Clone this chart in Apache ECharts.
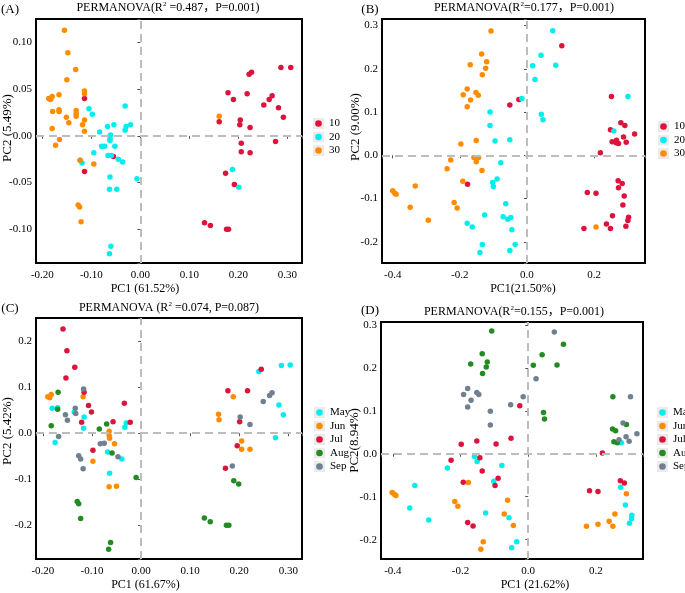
<!DOCTYPE html>
<html>
<head>
<meta charset="utf-8">
<script src="https://cdn.jsdelivr.net/npm/echarts@6/dist/echarts.min.js"></script>
<style>html,body{margin:0;padding:0;background:#fff}#c{width:685px;height:593px}</style>
</head>
<body>
<div id="c"></div>
<script>
// ---------- Data ----------
// Panel A (PC1 61.52%, PC2 5.49%) groups 10 / 20 / 30
const groupsAB = ['10', '20', '30'];
const A10 = [[-0.114,0.040],[-0.055,-0.022],[-0.114,-0.038],[0.179,0.046],[0.190,0.039],[0.218,0.045],[0.222,0.066],[0.227,0.068],[0.287,0.073],[0.307,0.073],[0.263,0.039],[0.269,0.043],[0.252,0.033],[0.282,0.030],[0.292,0.020],[0.161,0.015],[0.204,0.017],[0.203,0.012],[0.224,0.009],[0.206,-0.008],[0.206,-0.017],[0.224,-0.018],[0.276,-0.006],[0.174,-0.040],[0.192,-0.052],[0.131,-0.093],[0.143,-0.096],[0.176,-0.100],[0.180,-0.100]];
const A20 = [[-0.105,0.029],[-0.098,0.023],[-0.031,0.032],[-0.083,0.004],[-0.067,0.010],[-0.054,0.012],[-0.061,0.001],[-0.062,-0.003],[-0.062,-0.005],[-0.029,0.010],[-0.031,0.006],[-0.020,0.012],[-0.079,-0.011],[-0.073,-0.011],[-0.052,-0.011],[-0.095,-0.018],[-0.066,-0.021],[-0.059,-0.021],[-0.045,-0.025],[-0.036,-0.028],[-0.123,-0.026],[-0.119,-0.029],[-0.062,-0.044],[-0.007,-0.046],[-0.063,-0.057],[-0.048,-0.057],[-0.060,-0.118],[-0.063,-0.126],[0.188,-0.036],[0.201,-0.055]];
const A30 = [[-0.155,0.113],[-0.148,0.089],[-0.132,0.071],[-0.150,0.060],[-0.114,0.048],[-0.114,0.045],[-0.166,0.044],[-0.187,0.040],[-0.183,0.039],[-0.180,0.042],[-0.179,0.026],[-0.166,0.028],[-0.166,0.026],[-0.131,0.027],[-0.131,0.024],[-0.131,0.021],[-0.151,0.020],[-0.146,0.014],[-0.114,0.017],[-0.118,0.012],[-0.114,0.005],[-0.180,0.008],[-0.165,-0.004],[-0.173,-0.010],[-0.123,-0.026],[-0.095,-0.030],[-0.127,-0.074],[-0.124,-0.076],[-0.121,-0.092],[0.161,0.021]];

// Panel B (PC1 21.50%, PC2 9.00%)
const B10 = [[0.104,0.253],[-0.024,0.129],[-0.051,0.116],[-0.177,-0.067],[0.252,0.136],[0.249,0.059],[0.280,0.075],[0.292,0.069],[0.321,0.049],[0.288,0.042],[0.254,0.031],[0.266,0.029],[0.267,0.035],[0.273,0.027],[0.296,0.030],[0.219,0.006],[0.272,-0.059],[0.284,-0.065],[0.273,-0.075],[0.180,-0.086],[0.206,-0.088],[0.290,-0.094],[0.286,-0.115],[0.255,-0.140],[0.303,-0.143],[0.301,-0.151],[0.237,-0.159],[0.295,-0.164],[0.170,-0.169],[0.249,-0.169]];
const B20 = [[0.077,0.288],[0.042,0.231],[0.017,0.207],[0.086,0.208],[0.024,0.175],[-0.015,0.131],[0.043,0.095],[0.048,0.082],[-0.110,0.100],[-0.110,0.069],[-0.095,0.033],[-0.051,0.036],[-0.078,-0.017],[-0.102,-0.063],[-0.100,-0.072],[-0.089,-0.055],[-0.063,-0.112],[-0.126,-0.138],[-0.071,-0.142],[-0.057,-0.148],[-0.048,-0.144],[-0.045,-0.172],[-0.178,-0.157],[-0.163,-0.166],[-0.133,-0.206],[-0.140,-0.225],[-0.051,-0.220],[-0.035,-0.206],[0.301,0.136],[0.259,0.056]];
const B30 = [[-0.107,0.287],[-0.135,0.234],[-0.120,0.216],[-0.169,0.209],[-0.123,0.201],[-0.133,0.186],[-0.178,0.153],[-0.190,0.140],[-0.152,0.145],[-0.145,0.139],[-0.168,0.128],[-0.178,0.112],[-0.197,0.026],[-0.151,0.034],[-0.158,-0.005],[-0.144,-0.005],[-0.151,-0.015],[-0.227,-0.011],[-0.238,-0.031],[-0.134,-0.035],[-0.191,-0.060],[-0.333,-0.071],[-0.400,-0.082],[-0.394,-0.088],[-0.390,-0.090],[-0.217,-0.109],[-0.208,-0.122],[-0.348,-0.120],[-0.294,-0.150],[0.206,-0.166]];

// Panel C (PC1 61.67%, PC2 5.42%) months
const months = ['May', 'Jun', 'Jul', 'Aug', 'Sep'];
const CMay = [[-0.181,0.054],[-0.170,0.055],[-0.175,-0.020],[-0.116,0.035],[-0.117,0.011],[-0.136,0.046],[-0.030,0.022],[-0.033,0.013],[-0.068,-0.041],[-0.039,-0.056],[-0.064,-0.087],[0.240,0.134],[0.286,0.147],[0.304,0.148],[0.281,0.061],[0.290,0.040],[0.274,-0.010]];
const CJun = [[-0.190,0.079],[-0.186,0.077],[-0.183,0.084],[-0.118,0.079],[-0.065,0.004],[-0.065,-0.005],[-0.064,-0.011],[-0.054,-0.023],[-0.098,-0.061],[-0.065,-0.116],[-0.050,-0.115],[0.158,0.041],[0.159,0.029],[0.188,0.079],[0.205,-0.017],[0.205,-0.035],[0.222,-0.035]];
const CJul = [[-0.159,0.226],[-0.151,0.179],[-0.135,0.143],[-0.153,0.120],[-0.116,0.089],[-0.107,0.060],[-0.101,0.046],[-0.121,0.024],[-0.034,0.065],[-0.057,0.025],[-0.022,0.024],[-0.098,-0.037],[0.177,0.092],[0.217,0.092],[0.245,0.139],[0.201,0.025],[0.196,-0.027],[0.172,-0.076]];
const CAug = [[-0.169,0.089],[-0.170,0.052],[-0.183,0.016],[-0.085,0.009],[-0.070,0.020],[-0.059,-0.043],[-0.010,-0.096],[-0.130,-0.148],[-0.127,-0.153],[-0.123,-0.185],[-0.062,-0.237],[-0.066,-0.252],[0.189,-0.103],[0.199,-0.110],[0.129,-0.184],[0.141,-0.192],[0.174,-0.200],[0.179,-0.200]];
const CSep = [[-0.117,0.096],[-0.134,0.054],[-0.133,0.043],[-0.154,0.040],[-0.150,0.028],[-0.168,-0.007],[-0.083,-0.023],[-0.075,-0.022],[-0.127,-0.049],[-0.123,-0.056],[-0.118,-0.077],[-0.047,-0.051],[0.202,0.035],[0.222,0.019],[0.249,0.069],[0.262,0.082],[0.267,0.088],[0.186,-0.071]];

// Panel D (PC1 21.62%, PC2 8.94%)
const DMay = [[-0.159,-0.006],[-0.151,-0.018],[-0.239,-0.033],[-0.078,-0.027],[-0.102,-0.064],[-0.335,-0.074],[-0.350,-0.126],[-0.294,-0.154],[-0.126,-0.138],[-0.057,-0.149],[-0.034,-0.205],[-0.049,-0.219],[0.275,0.026],[0.273,-0.078],[0.287,-0.119],[0.306,-0.143],[0.305,-0.151],[0.299,-0.162]];
const DJun = [[-0.402,-0.090],[-0.396,-0.094],[-0.391,-0.097],[-0.177,-0.067],[-0.217,-0.111],[-0.208,-0.122],[-0.061,-0.108],[-0.071,-0.140],[-0.044,-0.167],[-0.133,-0.205],[-0.140,-0.222],[0.290,-0.093],[0.256,-0.140],[0.239,-0.157],[0.206,-0.164],[0.250,-0.169],[0.172,-0.169]];
const DJul = [[-0.025,0.112],[-0.198,0.022],[-0.152,0.030],[-0.095,0.023],[-0.051,0.036],[-0.228,-0.015],[-0.143,-0.009],[-0.136,-0.040],[-0.089,-0.057],[-0.192,-0.066],[-0.098,-0.074],[-0.179,-0.160],[-0.163,-0.168],[0.219,0.002],[0.181,-0.086],[0.206,-0.088],[0.272,-0.063],[0.284,-0.068]];
const DAug = [[-0.108,0.286],[-0.136,0.233],[-0.121,0.214],[-0.170,0.209],[-0.124,0.202],[-0.135,0.187],[0.041,0.231],[0.104,0.255],[0.015,0.206],[0.085,0.207],[0.045,0.096],[0.048,0.081],[0.250,0.133],[0.249,0.058],[0.258,0.054],[0.290,0.068],[0.253,0.028],[0.263,0.026]];
const DSep = [[0.077,0.284],[0.023,0.175],[-0.179,0.152],[-0.191,0.138],[-0.152,0.143],[-0.146,0.138],[-0.169,0.125],[-0.179,0.109],[-0.112,0.099],[-0.112,0.067],[-0.052,0.114],[-0.015,0.133],[0.302,0.133],[0.280,0.072],[0.321,0.047],[0.289,0.040],[0.298,0.029],[0.268,0.033]];

// ---------- Style ----------
const FONT = '"Liberation Serif", "Times New Roman", serif';
const colAB = {'10': '#DC143C', '20': '#00EEEE', '30': '#FF8C00'};
const colM = {May: '#00EEEE', Jun: '#FF8C00', Jul: '#DC143C', Aug: '#228B22', Sep: '#708090'};

const panels = [
  {grid: {left: 36, top: 19, width: 266, height: 244}, x: [-0.213, 0.330], y: [-0.136, 0.125], xs: 0.1, xd: 2, ys: 0.05, yd: 2, xsn: 5, ysn: 5,
   xname: 'PC1 (61.52%)', xpad: [0, 48, 0, 0], xgap: 20, yname: 'PC2 (5.49%)', ypad: [0, 0, 0, 26], ygap: 22,
   groups: groupsAB, data: [A10, A20, A30], cols: colAB},
  {grid: {left: 382, top: 19, width: 263, height: 244}, x: [-0.432, 0.352], y: [-0.249, 0.315], xs: 0.2, xd: 1, ys: 0.1, yd: 1, xsn: 4, ysn: 5,
   xname: 'PC1(21.50%)', xpad: [0, 0, 0, 19], xgap: 20, yname: 'PC2 (9.00%)', ypad: [0, 0, 0, 28], ygap: 20,
   groups: groupsAB, data: [B10, B20, B30], cols: colAB},
  {grid: {left: 35, top: 318, width: 267, height: 241}, x: [-0.214, 0.328], y: [-0.273, 0.250], xs: 0.1, xd: 2, ys: 0.1, yd: 1, xsn: 5, ysn: 5,
   xname: 'PC1 (61.67%)', xpad: [0, 47, 0, 0], xgap: 20, yname: 'PC2 (5.42%)', ypad: [0, 0, 0, 15], ygap: 22,
   groups: months, data: [CMay, CJun, CJul, CAug, CSep], cols: colM},
  {grid: {left: 381, top: 322, width: 262, height: 237}, x: [-0.435, 0.339], y: [-0.245, 0.307], xs: 0.2, xd: 1, ys: 0.1, yd: 1, xsn: 4, ysn: 5,
   xname: 'PC1 (21.62%)', xpad: [0, 0, 0, 46], xgap: 20, yname: 'PC2(8.94%)', ypad: [0, 0, 0, 0], ygap: 20,
   groups: months, data: [DMay, DJun, DJul, DAug, DSep], cols: colM}
];

function fmt(step, dec) {
  return function (v) {
    const r = Math.round(v / step);
    if (Math.abs(v - r * step) > 1e-6) return '';
    return (r * step).toFixed(dec);
  };
}

function keyIcon(color) {
  const svg = '<svg xmlns="http://www.w3.org/2000/svg" width="22" height="22">' +
    '<rect width="22" height="22" fill="#ebebeb"/>' +
    '<circle cx="11" cy="11" r="6.6" fill="' + color + '"/></svg>';
  return 'image://data:image/svg+xml;charset=utf-8,' + encodeURIComponent(svg);
}

const grids = [], xAxes = [], yAxes = [], series = [];
const axisCommon = {
  axisLine: {show: false},
  axisTick: {show: true, length: 3, lineStyle: {color: '#555', width: 1}},
  splitLine: {show: false}
};
panels.forEach((p, i) => {
  grids.push(Object.assign({show: true, borderColor: '#000', borderWidth: 2, backgroundColor: 'transparent'}, p.grid));
  xAxes.push(Object.assign({}, axisCommon, {
    type: 'value', gridIndex: i, min: p.x[0], max: p.x[1], splitNumber: p.xsn,
    axisLabel: {formatter: fmt(p.xs, p.xd), fontFamily: FONT, fontSize: 11, color: '#000', margin: 7},
    name: p.xname, nameLocation: 'middle', nameGap: p.xgap, nameMoveOverlap: false,
    nameTextStyle: {fontFamily: FONT, fontSize: 12, color: '#000', padding: p.xpad}
  }));
  yAxes.push(Object.assign({}, axisCommon, {
    type: 'value', gridIndex: i, min: p.y[0], max: p.y[1], splitNumber: p.ysn,
    axisLabel: {formatter: fmt(p.ys, p.yd), fontFamily: FONT, fontSize: 11, color: '#000', margin: 4},
    name: p.yname, nameLocation: 'middle', nameGap: p.ygap, nameMoveOverlap: false,
    nameTextStyle: {fontFamily: FONT, fontSize: 13, color: '#000', padding: p.ypad}
  }));
  // dashed zero lines
  series.push({
    type: 'scatter', xAxisIndex: i, yAxisIndex: i, data: [], z: 1, silent: true,
    markLine: {silent: true, symbol: 'none', animation: false,
      label: {show: false},
      lineStyle: {type: [8, 5], color: '#bdbdbd', width: 2},
      data: [{xAxis: 0}, {yAxis: 0}]}
  });
  p.groups.forEach((g, k) => {
    series.push({
      type: 'scatter', name: g, xAxisIndex: i, yAxisIndex: i, z: 3,
      symbol: 'circle', symbolSize: 5.5,
      itemStyle: {color: p.cols[g], opacity: 1},
      data: p.data[k]
    });
  });
});

const legendPos = [
  {left: 308, top: 113, names: groupsAB, cols: colAB},
  {left: 653, top: 116, names: groupsAB, cols: colAB},
  {left: 309, top: 402, names: months, cols: colM},
  {left: 652, top: 402, names: months, cols: colM}
];
const legends = legendPos.map(lp => ({
  orient: 'vertical', left: lp.left, top: lp.top,
  data: lp.names.map(n => ({name: n, icon: keyIcon(lp.cols[n])})),
  itemWidth: 11, itemHeight: 11, itemGap: 2.5, selectedMode: false,
  textStyle: {fontFamily: FONT, fontSize: 11, color: '#000', lineHeight: 11}
}));

const rich = {
  a: {fontFamily: FONT + ', "Noto Sans CJK SC"', fontSize: 12, color: '#000'},
  s: {fontFamily: FONT, fontSize: 7, color: '#000', verticalAlign: 'top', padding: [0, 0, 6, 0]}
};
const titles = [
  {text: '{a|PERMANOVA(R}{s|2}{a| =0.487，P=0.001)}', left: 168, top: 1},
  {text: '{a|PERMANOVA(R}{s|2}{a|=0.177，P=0.001)}', left: 524, top: 1},
  {text: '{a|PERMANOVA (R}{s|2}{a| =0.074, P=0.087)}', left: 169, top: 301},
  {text: '{a|PERMANOVA(R}{s|2}{a|=0.155，P=0.001)}', left: 514, top: 305},
  {text: '(A)', left: 10, top: 3, plain: true},
  {text: '(B)', left: 370, top: 3, plain: true},
  {text: '(C)', left: 10, top: 302, plain: true},
  {text: '(D)', left: 370, top: 304, plain: true}
].map(t => ({
  text: t.text, left: t.left, top: t.top, textAlign: 'center', padding: 0,
  textStyle: t.plain ? {fontFamily: FONT, fontSize: 13, fontWeight: 'normal', color: '#000'}
                     : {fontFamily: FONT, fontSize: 12, fontWeight: 'normal', color: '#000', rich: rich}
}));

const chart = echarts.init(document.getElementById('c'), null, {renderer: 'canvas'});
chart.setOption({
  animation: false,
  backgroundColor: '#fff',
  title: titles,
  legend: legends,
  grid: grids,
  xAxis: xAxes,
  yAxis: yAxes,
  series: series
});
</script>
</body>
</html>
